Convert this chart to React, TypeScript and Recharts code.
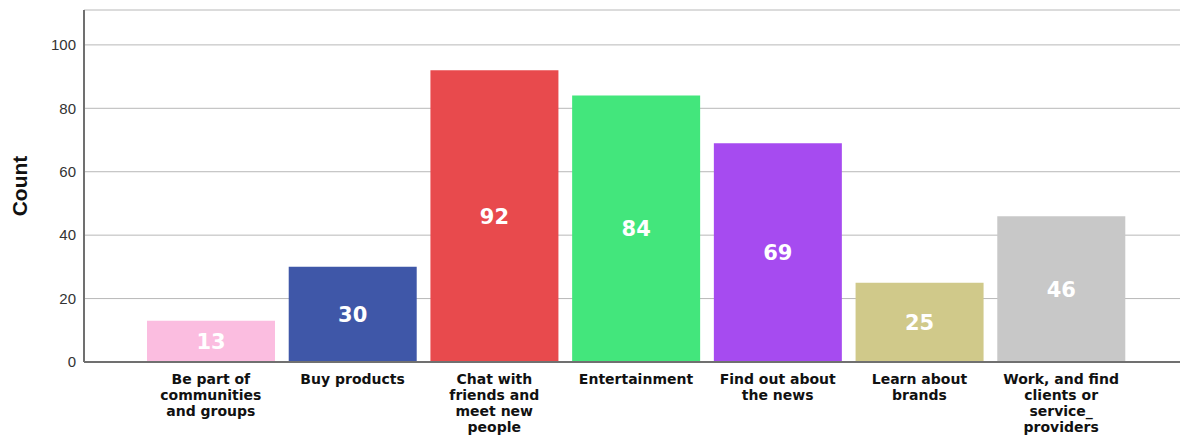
import React from "react";
import { BarChart, Bar, XAxis, YAxis, CartesianGrid, Cell, LabelList, Label } from "recharts";

const categories = [
  "Be part of\ncommunities\nand groups",
  "Buy products",
  "Chat with\nfriends and\nmeet new\npeople",
  "Entertainment",
  "Find out about\nthe news",
  "Learn about\nbrands",
  "Work, and find\nclients or\nservice_\nproviders",
];
const counts = [13, 30, 92, 84, 69, 25, 46];
const barColors = ["#fbbde0", "#3f57a8", "#e84a4d", "#43e67c", "#a64bf0", "#d0c98a", "#c8c8c8"];
const yTicks = [0, 20, 40, 60, 80, 100];

const data = categories.map((name, i) => ({ name, count: counts[i] }));

const labelFont = "'DejaVu Sans', 'Open Sans', sans-serif";

const CategoryTick = ({ x, y, payload }: any) => {
  const lines = String(payload.value).split("\n");
  return (
    <g>
      {lines.map((line, i) => (
        <text
          key={i}
          x={x}
          y={y + 14 + i * 16}
          textAnchor="middle"
          fill="#111"
          fontFamily={labelFont}
          fontWeight={700}
          fontSize={14}
        >
          {line}
        </text>
      ))}
    </g>
  );
};

export default function App() {
  return (
    <div style={{ position: "absolute", left: 0, top: 0, background: "#fff" }}>
      <BarChart width={1180} height={436} data={data} margin={{ top: 10, right: 0, bottom: 0, left: 0 }}>
        <CartesianGrid vertical={false} stroke="#b8b8b8" strokeWidth={1} />
        <XAxis
          dataKey="name"
          interval={0}
          tick={<CategoryTick />}
          tickLine={false}
          axisLine={{ stroke: "#707070", strokeWidth: 2 }}
          padding={{ left: 56, right: 48 }}
          height={74}
        />
        <YAxis
          width={84}
          domain={[0, 111]}
          ticks={yTicks}
          tickLine={false}
          axisLine={{ stroke: "#707070", strokeWidth: 2 }}
          tick={{ fill: "#333", fontSize: 15, fontFamily: "'Liberation Sans', Arial, sans-serif" }}
          tickMargin={2}
        >
          <Label
            value="Count"
            angle={-90}
            position="insideLeft"
            offset={20}
            style={{ fill: "#111", fontSize: 21, fontWeight: 700, fontFamily: "'Liberation Sans', Arial, sans-serif", textAnchor: "middle" }}
          />
        </YAxis>
        <Bar dataKey="count" barSize={128} isAnimationActive={false}>
          {data.map((d, i) => (
            <Cell key={d.name} fill={barColors[i]} />
          ))}
          <LabelList
            dataKey="count"
            position="center"
            fill="#fff"
            style={{ fontSize: 21, fontWeight: 700, fontFamily: labelFont }}
          />
        </Bar>
      </BarChart>
    </div>
  );
}
